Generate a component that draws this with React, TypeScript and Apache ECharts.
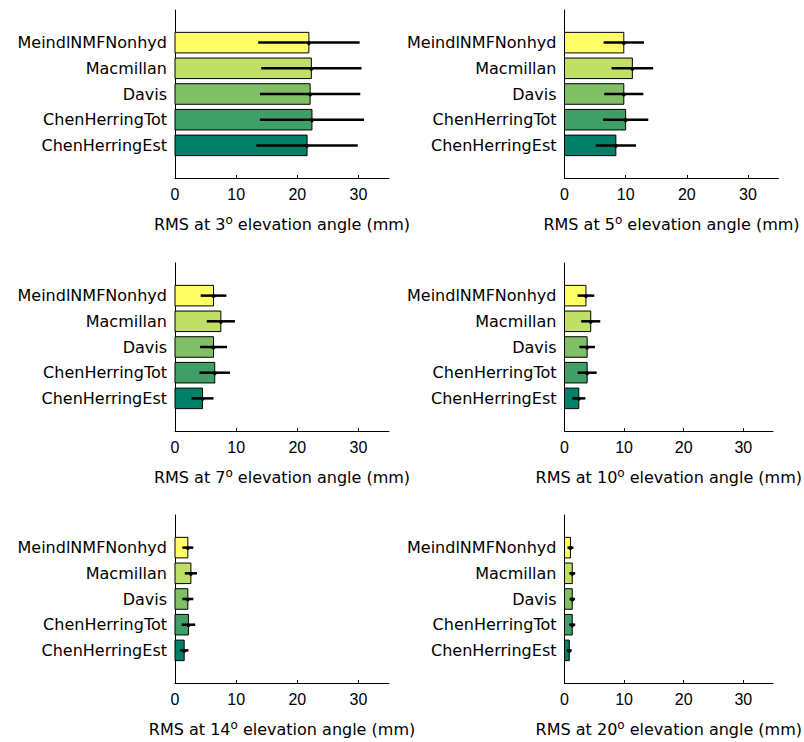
import React, { useEffect, useRef } from "react";
import * as echarts from "echarts";

const categories = ["MeindlNMFNonhyd", "Macmillan", "Davis", "ChenHerringTot", "ChenHerringEst"];
const barColors = ["#FFFF66", "#BFDF66", "#80BF66", "#409F66", "#008066"];
const elevations = ["3", "5", "7", "10", "14", "20"];

const rms3 = [21.9, 22.3, 22.1, 22.4, 21.6];
const err3 = [8.3, 8.2, 8.2, 8.5, 8.3];
const rms5 = [9.7, 11.1, 9.7, 10.0, 8.4];
const err5 = [3.3, 3.4, 3.2, 3.7, 3.3];
const rms7 = [6.3, 7.5, 6.3, 6.5, 4.5];
const err7 = [2.1, 2.3, 2.2, 2.5, 1.8];
const rms10 = [3.6, 4.4, 3.8, 3.8, 2.4];
const err10 = [1.4, 1.6, 1.3, 1.6, 1.1];
const rms14 = [2.1, 2.6, 2.1, 2.2, 1.5];
const err14 = [0.9, 1.0, 0.9, 1.1, 0.7];
const rms20 = [1.0, 1.3, 1.3, 1.3, 0.8];
const err20 = [0.5, 0.5, 0.45, 0.5, 0.4];

const xTicks = [0, 10, 20, 30];

const panelValues = [rms3, rms5, rms7, rms10, rms14, rms20];
const panelErrors = [err3, err5, err7, err10, err14, err20];

const LABEL_FONT = "DejaVu Sans";
const TICK_FONT = "Liberation Sans";

export default function App() {
  const ref = useRef<HTMLDivElement>(null);
  useEffect(() => {
    document.body.style.margin = "0";
    if (!ref.current) return;
    const chart = echarts.init(ref.current, null, { renderer: "svg" });
    const colLeft = [175, 564.5];
    const rowTop = [10, 263, 515];
    const grids: any[] = [];
    const xAxes: any[] = [];
    const yAxes: any[] = [];
    const series: any[] = [];
    for (let p = 0; p < 6; p++) {
      const col = p % 2;
      const row = Math.floor(p / 2);
      grids.push({ left: colLeft[col], top: rowTop[row], width: 214, height: 168, containLabel: false });
      xAxes.push({
        type: "value",
        gridIndex: p,
        min: 0,
        max: 35,
        splitLine: { show: false },
        axisLine: { show: true, onZero: false, lineStyle: { color: "#000", width: 1 } },
        axisTick: { show: true, inside: true, length: 3, customValues: xTicks.slice(1), lineStyle: { color: "#000" } },
        axisLabel: { customValues: xTicks, color: "#000", fontSize: 16, fontFamily: TICK_FONT, margin: 8 },
        name: `{a|RMS at ${elevations[p]}}{s|o}{a| elevation angle (mm)}`,
        nameLocation: "middle",
        nameGap: 36,
        nameTextStyle: {
          rich: {
            a: { fontSize: 16, fontFamily: LABEL_FONT, color: "#000", lineHeight: 20 },
            s: { fontSize: 12, fontFamily: LABEL_FONT, color: "#000", padding: [0, 0, 9, 0] },
          },
        },
      });
      yAxes.push({
        type: "value",
        gridIndex: p,
        inverse: true,
        min: -1.27,
        max: 5.27,
        splitLine: { show: false },
        axisLine: { show: true, onZero: false, lineStyle: { color: "#000", width: 1 } },
        axisTick: { show: false },
        axisLabel: {
          customValues: [0, 1, 2, 3, 4],
          formatter: (v: number) => categories[Math.round(v)] ?? "",
          color: "#000",
          fontSize: 16,
          fontFamily: LABEL_FONT,
          margin: 8,
        },
      });
      const vals = panelValues[p];
      const errs = panelErrors[p];
      const data = vals.map((v, i) => [v, i, errs[i]]);
      series.push({
        type: "custom",
        xAxisIndex: p,
        yAxisIndex: p,
        encode: { x: 0, y: 1 },
        data,
        renderItem: (params: any, api: any) => {
          const v = api.value(0);
          const i = api.value(1);
          const p0 = api.coord([0, i]);
          const p1 = api.coord([v, i]);
          const h = api.size([0, 0.8])[1];
          return {
            type: "rect",
            shape: { x: p0[0], y: p0[1] - h / 2, width: p1[0] - p0[0], height: h },
            style: { fill: barColors[i], stroke: "#000", lineWidth: 1 },
          };
        },
      });
      series.push({
        type: "custom",
        xAxisIndex: p,
        yAxisIndex: p,
        encode: { x: 0, y: 1 },
        data,
        z: 3,
        renderItem: (params: any, api: any) => {
          const v = api.value(0);
          const i = api.value(1);
          const e = api.value(2);
          const a = api.coord([v - e, i]);
          const b = api.coord([v + e, i]);
          const c = api.coord([v, i]);
          return {
            type: "group",
            children: [
              { type: "line", shape: { x1: a[0], y1: a[1], x2: b[0], y2: b[1] }, style: { stroke: "#000", lineWidth: 2.5 } },
              { type: "circle", shape: { cx: c[0], cy: c[1] + 0.5, r: 2 }, style: { fill: "#000" } },
            ],
          };
        },
      });
    }
    chart.setOption({
      animation: false,
      backgroundColor: "#fff",
      grid: grids,
      xAxis: xAxes,
      yAxis: yAxes,
      series,
    });
    return () => chart.dispose();
  }, []);
  return <div ref={ref} style={{ width: 804, height: 742 }} />;
}
